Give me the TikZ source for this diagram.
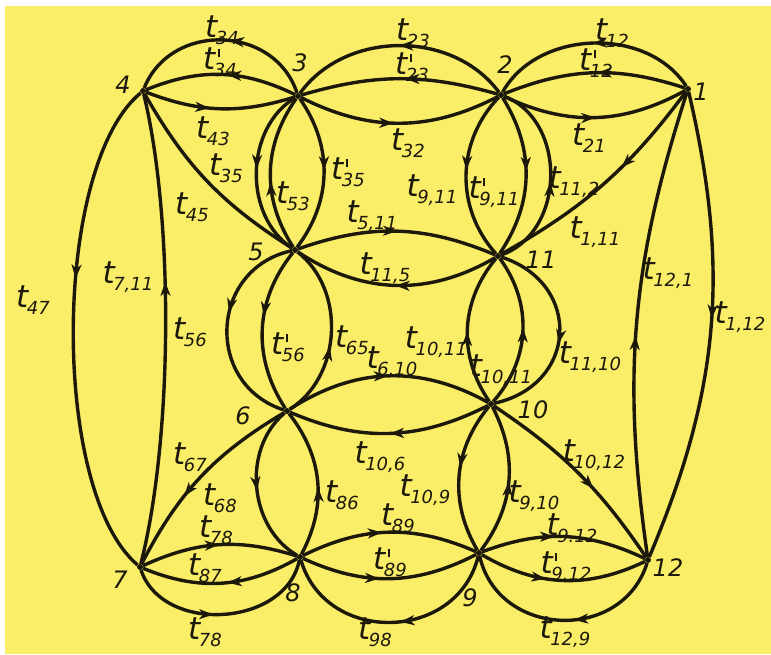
\documentclass[tikz,border=0pt]{standalone}
\usepackage{fontspec}
\setmainfont{DejaVu Sans}
\usetikzlibrary{arrows.meta,decorations.markings}
\definecolor{paper}{RGB}{250,238,104}
\definecolor{ink}{RGB}{28,24,10}
\newcommand{\tfnt}{\fontsize{31}{31}\selectfont\itshape}
\newcommand{\sfnt}{\fontsize{18}{18}\selectfont\itshape}
\newcommand{\tv}[1]{{\tfnt t}\kern-1.5pt\raisebox{-7pt}{\sfnt #1}}
\newcommand{\tvp}[1]{{\tfnt t}\rlap{\raisebox{12pt}{\kern2.5pt\rule{2pt}{8pt}}}\kern-1.5pt\raisebox{-7pt}{\sfnt #1}}
\begin{document}
\begin{tikzpicture}[x=1pt,y=-1pt,
  dot/.style={circle,fill=ink,inner sep=0pt,minimum size=6pt},
  edge/.style={draw=ink,line width=3.4pt},
  am/.style={postaction={decorate},decoration={markings,mark=at position #1 with {\arrow{Stealth[length=14pt,width=10pt,inset=4pt]}}}},
  am/.default=0.5,
  lbl/.style={text=ink,inner sep=0pt},
  num/.style={text=ink,inner sep=0pt,font=\fontsize{24}{24}\selectfont\itshape}]
\fill[white] (0,0) rectangle (771,654);
\fill[paper] (5,6) rectangle (771,654);
\useasboundingbox (0,0) rectangle (771,654);
% nodes
\node[dot] (n1) at (688,89) {};
\node[dot] (n2) at (501,95) {};
\node[dot] (n3) at (298,96) {};
\node[dot] (n4) at (143,91) {};
\node[dot] (n5) at (295,250) {};
\node[dot] (n11) at (498,256) {};
\node[dot] (n6) at (287,411) {};
\node[dot] (n10) at (491,404) {};
\node[dot] (n7) at (140,567) {};
\node[dot] (n8) at (300,557) {};
\node[dot] (n9) at (479,553) {};
\node[dot] (n12) at (648,560) {};
% 1-2
\draw[edge,am] (n1) to[bend right=59] (n2);
\draw[edge,am=0.48] (n1) to[bend right=20] (n2);
\draw[edge,am] (n2) to[bend right=27] (n1);
% 2-3
\draw[edge,am] (n2) to[bend right=54] (n3);
\draw[edge,am=0.47] (n2) to[bend right=16] (n3);
\draw[edge,am=0.47] (n3) to[bend right=27] (n2);
% 3-4
\draw[edge,am=0.46] (n3) to[bend right=70,looseness=1.2] (n4);
\draw[edge,am=0.46] (n3) to[bend right=24] (n4);
\draw[edge,am=0.43] (n4) to[bend right=19] (n3);
% 3-5
\draw[edge,am=0.48] (n3) to[bend right=58] (n5);
\draw[edge,am=0.44] (n5) to[bend left=34] (n3);
\draw[edge,am=0.48] (n3) to[bend left=36] (n5);
% 4-5
\draw[edge] (n4) to[bend right=14] (n5);
% 2-11
\draw[edge,am=0.47] (n2) to[bend right=43] (n11);
\draw[edge,am=0.47] (n2) to[bend left=33] (n11);
\draw[edge,am=0.47] (n11) to[bend right=70,looseness=1.1] (n2);
% 1-11
\draw[edge,am=0.4] (n1) to[bend left=12] (n11);
% 5-11
\draw[edge,am] (n5) to[bend left=21] (n11);
\draw[edge,am] (n11) to[bend left=32] (n5);
% 5-6
\draw[edge,am=0.43] (n5) to[bend right=75,looseness=1.35] (n6);
\draw[edge,am=0.42] (n5) to[bend right=36] (n6);
\draw[edge,am=0.42] (n6) to[bend right=55] (n5);
% 11-10
\draw[edge,am=0.48] (n10) to[bend left=37] (n11);
\draw[edge,am=0.52] (n10) to[bend right=39] (n11);
\draw[edge,am=0.55] (n11) to[bend left=75,looseness=1.5] (n10);
% 6-10
\draw[edge,am] (n6) to[bend left=31] (n10);
\draw[edge,am] (n10) to[bend left=25] (n6);
% 6-8
\draw[edge,am=0.52] (n6) to[bend right=55] (n8);
\draw[edge,am=0.46] (n8) to[bend right=33] (n6);
% 6-7
\draw[edge,am=0.62] (n6) to[bend right=16] (n7);
% 10-9
\draw[edge,am=0.44] (n10) to[bend right=35] (n9);
\draw[edge,am=0.49] (n9) to[bend right=32] (n10);
% 10-12
\draw[edge,am=0.6] (n10) to[bend left=11] (n12);
% 7-8
\draw[edge,am] (n7) to[bend left=21] (n8);
\draw[edge,am=0.46] (n8) to[bend left=26] (n7);
\draw[edge,am=0.45] (n7) to[bend right=75,looseness=1.1] (n8);
% 8-9
\draw[edge,am=0.46] (n8) to[bend left=25] (n9);
\draw[edge,am=0.44] (n8) to[bend right=26] (n9);
\draw[edge,am=0.46] (n9) to[bend left=75,looseness=1.28] (n8);
% 9-12
\draw[edge,am=0.44] (n9) to[bend left=23] (n12);
\draw[edge,am=0.4] (n9) to[bend right=28] (n12);
\draw[edge,am=0.44] (n12) to[bend left=75,looseness=1.28] (n9);
% 4-7
\draw[edge,am=0.4] (n4) to[bend right=50,looseness=0.62] (n7);
\draw[edge,am=0.6] (n7) to[bend right=14,looseness=0.7] (n4);
% 1-12
\draw[edge,am=0.47] (n12) to[bend left=13] (n1);
\draw[edge,am=0.48] (n1) to[bend left=18] (n12);
% node numbers
\node[num] (k1) at (701,92) {1};
\node[num] (k2) at (505,65) {2};
\node[num] (k3) at (300,63) {3};
\node[num] (k4) at (123,85) {4};
\node[num] (k5) at (256,252) {5};
\node[num] (k11) at (541,260) {11};
\node[num] (k6) at (243,416) {6};
\node[num] (k10) at (533,410) {10};
\node[num] (k7) at (120,580) {7};
\node[num] (k8) at (293,593) {8};
\node[num] (k9) at (470,598) {9};
\node[num] (k12) at (668,568) {12};
% edge labels
\node[lbl] (l34) at (222,30) {\tv{34}};
\node[lbl] (l34p) at (220,62) {\tvp{34}};
\node[lbl] (l43) at (213,131) {\tv{43}};
\node[lbl] (l35) at (226,168) {\tv{35}};
\node[lbl] (l45) at (192,207) {\tv{45}};
\node[lbl] (l23) at (413,33) {\tv{23}};
\node[lbl] (l23p) at (412,67) {\tvp{23}};
\node[lbl] (l32) at (408,143) {\tv{32}};
\node[lbl] (l35p) at (348,172) {\tvp{35}};
\node[lbl] (l53) at (293,196) {\tv{53}};
\node[lbl] (l911) at (432,190) {\tv{9,11}};
\node[lbl] (l911p) at (494,192) {\tvp{9,11}};
\node[lbl] (l511) at (372,216) {\tv{5,11}};
\node[lbl] (l115) at (385,268) {\tv{11,5}};
\node[lbl] (l12) at (612,33) {\tv{12}};
\node[lbl] (l12p) at (596,63) {\tvp{12}};
\node[lbl] (l21) at (589,138) {\tv{21}};
\node[lbl] (l112) at (574,182) {\tv{11,2}};
\node[lbl] (l111) at (595,232) {\tv{1,11}};
\node[lbl] (l121) at (668,273) {\tv{12,1}};
\node[lbl] (l112b) at (740,317) {\tv{1,12}};
\node[lbl] (l1110) at (590,357) {\tv{11,10}};
\node[lbl] (l1011) at (436,342) {\tv{10,11}};
\node[lbl] (l1011p) at (501,370) {\tv{10,11}};
\node[lbl] (l610) at (392,362) {\tv{6,10}};
\node[lbl] (l65) at (352,340) {\tv{65}};
\node[lbl] (l56p) at (288,347) {\tvp{56}};
\node[lbl] (l56) at (190,332) {\tv{56}};
\node[lbl] (l711) at (128,277) {\tv{7,11}};
\node[lbl] (l47) at (33,300) {\tv{47}};
\node[lbl] (l106) at (380,457) {\tv{10,6}};
\node[lbl] (l109) at (425,490) {\tv{10,9}};
\node[lbl] (l86) at (342,495) {\tv{86}};
\node[lbl] (l89) at (398,518) {\tv{89}};
\node[lbl] (l89p) at (390,562) {\tvp{89}};
\node[lbl] (l98) at (375,632) {\tv{98}};
\node[lbl] (l1012) at (594,455) {\tv{10,12}};
\node[lbl] (l910) at (534,496) {\tv{9,10}};
\node[lbl] (l912) at (572,528) {\tv{9.12}};
\node[lbl] (l912p) at (566,566) {\tvp{9.12}};
\node[lbl] (l129) at (565,632) {\tv{12,9}};
\node[lbl] (l67) at (190,457) {\tv{67}};
\node[lbl] (l68) at (220,498) {\tv{68}};
\node[lbl] (l78) at (216,530) {\tv{78}};
\node[lbl] (l87) at (205,568) {\tv{87}};
\node[lbl] (l78b) at (205,632) {\tv{78}};
\end{tikzpicture}
\end{document}
